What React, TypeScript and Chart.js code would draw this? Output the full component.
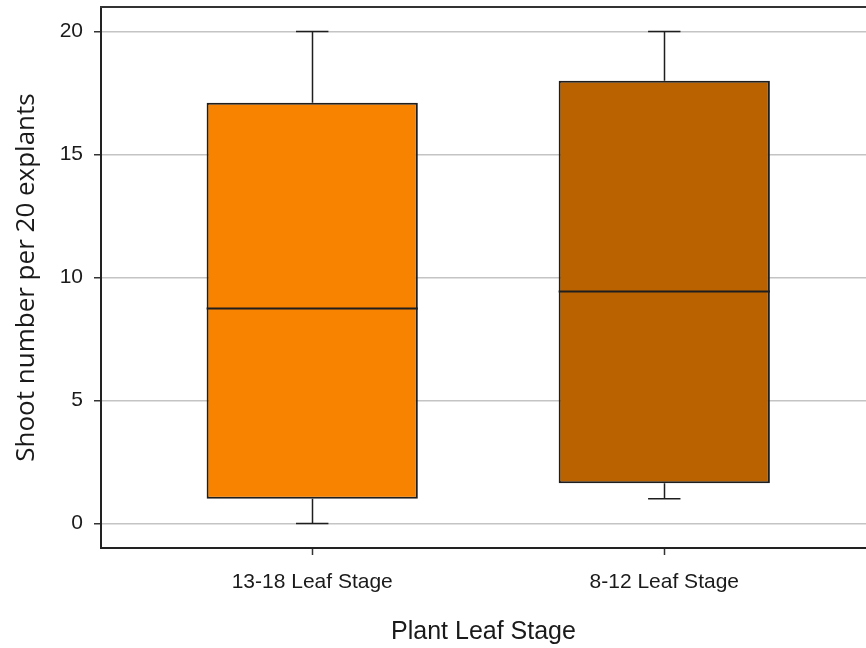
import React, { useEffect, useRef } from "react";
import { Chart, registerables } from "chart.js";

Chart.register(...registerables);

const categories = ["13-18 Leaf Stage", "8-12 Leaf Stage"];
const positions = [1, 2];
const whiskerMin = [0, 1.0];
const q1 = [1.0, 1.63];
const median = [8.74, 9.43];
const q3 = [17.11, 18.0];
const whiskerMax = [20, 20];
const boxColors = ["#F88300", "#BA6200"];
const yTicks = [0, 5, 10, 15, 20];

const CAP_HALF = 0.046;
const LINE = "#1e1e1e";

const boxPlugin = {
  id: "boxExtras",
  beforeDatasetsDraw(chart: any) {
    const { ctx, scales } = chart;
    const x = scales.x;
    const y = scales.y;
    ctx.save();
    ctx.strokeStyle = LINE;
    ctx.lineWidth = 1.5;
    positions.forEach((p, i) => {
      const cx = Math.round(x.getPixelForValue(p)) + 0.5;
      const l = x.getPixelForValue(p - CAP_HALF);
      const r = x.getPixelForValue(p + CAP_HALF);
      const yMax = y.getPixelForValue(whiskerMax[i]);
      const yQ3 = y.getPixelForValue(q3[i]);
      const yQ1 = y.getPixelForValue(q1[i]);
      const yMin = y.getPixelForValue(whiskerMin[i]);
      ctx.beginPath();
      ctx.moveTo(cx, yQ3);
      ctx.lineTo(cx, yMax);
      ctx.moveTo(l, yMax);
      ctx.lineTo(r, yMax);
      ctx.moveTo(cx, yQ1);
      ctx.lineTo(cx, yMin);
      ctx.moveTo(l, yMin);
      ctx.lineTo(r, yMin);
      ctx.stroke();
    });
    ctx.restore();
  },
  afterDatasetsDraw(chart: any) {
    const { ctx, scales, chartArea } = chart;
    const y = scales.y;
    const meta = chart.getDatasetMeta(0);
    ctx.save();
    ctx.strokeStyle = LINE;
    ctx.lineWidth = 1.8;
    positions.forEach((p, i) => {
      const bar = meta.data[i];
      const w = bar.width;
      const ym = y.getPixelForValue(median[i]);
      ctx.beginPath();
      ctx.moveTo(bar.x - w / 2, ym);
      ctx.lineTo(bar.x + w / 2, ym);
      ctx.stroke();
    });
    // top frame line
    ctx.strokeStyle = "#333";
    ctx.lineWidth = 2;
    ctx.beginPath();
    ctx.moveTo(chartArea.left - 1, chartArea.top);
    ctx.lineTo(chartArea.right + 2, chartArea.top);
    ctx.stroke();
    ctx.restore();
  },
};

export default function App() {
  const ref = useRef<HTMLCanvasElement | null>(null);
  useEffect(() => {
    document.body.style.margin = "0";
    if (!ref.current) return;
    const chart = new Chart(ref.current, {
      type: "bar",
      data: {
        datasets: [
          {
            data: positions.map((p, i) => ({ x: p, y: [q1[i], q3[i]] })) as any,
            backgroundColor: boxColors,
            borderColor: LINE,
            borderWidth: 2,
            borderSkipped: false,
            barPercentage: 0.6,
            categoryPercentage: 1,
          },
        ],
      },
      options: {
        responsive: false,
        animation: false,
        layout: { padding: { top: 7, right: 0, left: 0, bottom: 0 } },
        plugins: { legend: { display: false }, tooltip: { enabled: false } },
        scales: {
          x: {
            type: "linear",
            min: 0.4,
            max: 2.573,
            offset: false,
            afterBuildTicks: (s: any) => {
              s.ticks = positions.map((v) => ({ value: v }));
            },
            afterFit: (s: any) => {
              s.height = 100;
              s.paddingLeft = 0;
              s.paddingRight = 0;
            },
            ticks: {
              callback: (v: any) => {
                const idx = positions.indexOf(Number(v));
                return idx >= 0 ? categories[idx] : "";
              },
              autoSkip: false,
              maxRotation: 0,
              padding: 15,
              color: "#1a1a1a",
              font: { family: "'Liberation Sans', Arial, sans-serif", size: 21 },
            },
            grid: {
              offset: false,
              drawOnChartArea: false,
              drawTicks: true,
              tickLength: 7,
              tickColor: "#333",
              tickWidth: 1.5,
            },
            border: { display: true, color: "#222", width: 2 },
            title: {
              display: true,
              text: "Plant Leaf Stage",
              color: "#1a1a1a",
              font: { family: "'Liberation Sans', Arial, sans-serif", size: 25 },
              padding: { top: 0, bottom: 1 },
            },
          },
          y: {
            type: "linear",
            min: -1,
            max: 21,
            afterBuildTicks: (s: any) => {
              s.ticks = yTicks.map((v) => ({ value: v }));
            },
            afterFit: (s: any) => {
              s.width = 101;
              s.paddingTop = 0;
              s.paddingBottom = 0;
            },
            ticks: {
              padding: 11,
              color: "#1a1a1a",
              font: { family: "'Liberation Sans', Arial, sans-serif", size: 21 },
            },
            grid: {
              color: "#c4c4c4",
              lineWidth: 1.5,
              drawTicks: true,
              tickLength: 7,
              tickColor: "#333",
              tickWidth: 1.5,
            },
            border: { display: true, color: "#222", width: 2 },
            title: {
              display: true,
              text: "Shoot number per 20 explants",
              color: "#1a1a1a",
              font: { family: "'Open Sans', sans-serif", size: 26 },
              padding: { top: 11, bottom: 0 },
            },
          },
        },
      },
      plugins: [boxPlugin],
    });
    return () => chart.destroy();
  }, []);
  return (
    <div style={{ width: 866, height: 648, overflow: "hidden" }}>
      <canvas ref={ref} width={866} height={648} style={{ display: "block" }} />
    </div>
  );
}
